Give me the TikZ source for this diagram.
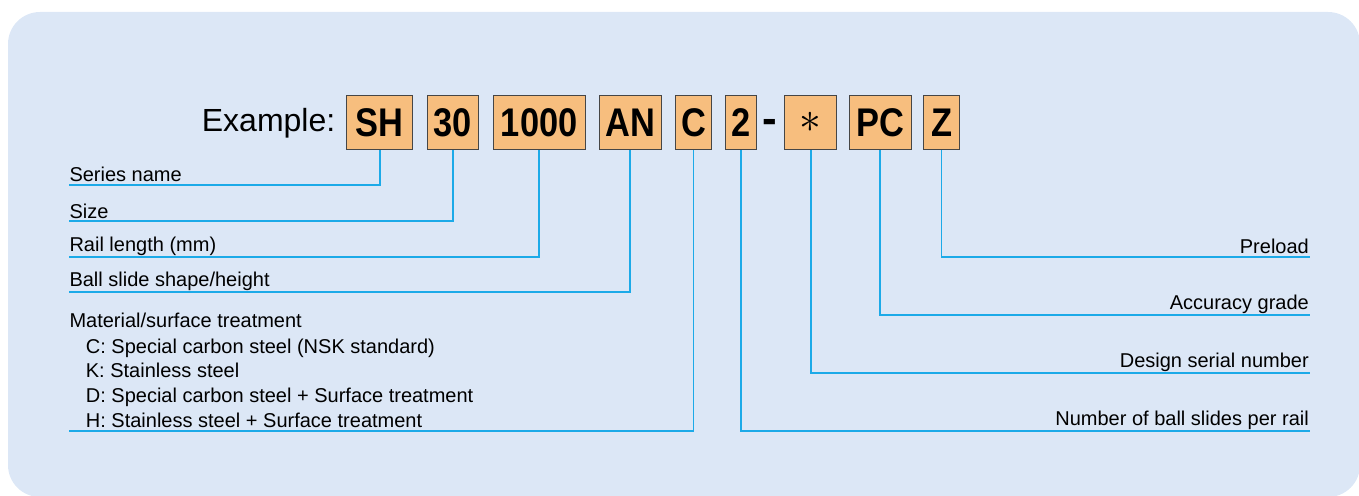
\documentclass[tikz,border=0pt]{standalone}
\usepackage{fontspec}
\setmainfont{Liberation Sans}
\newfontfamily\boxfont[FakeStretch=0.86]{Liberation Sans}
\definecolor{bg}{RGB}{220,231,246}
\definecolor{boxor}{RGB}{247,190,126}
\definecolor{boxedge}{RGB}{70,70,70}
\definecolor{lead}{RGB}{28,170,232}
\begin{document}
\begin{tikzpicture}[x=1pt,y=-1pt,
  code/.style={draw=boxedge,line width=0.9pt,fill=boxor,minimum height=54.4pt,inner sep=0pt,
    font=\boxfont\bfseries\fontsize{40}{40}\selectfont},
  lbl/.style={inner sep=0pt,font=\fontsize{20}{24}\selectfont},
  leader/.style={draw=lead,line width=1.7pt}]
\useasboundingbox (0,0) rectangle (1359,495);
\fill[bg,rounded corners=32pt] (8,12) rectangle (1360,497);

% example line
\node[inner sep=0pt,anchor=base west,font=\fontsize{32}{36}\selectfont] (ex) at (201.7,131.7) {Example:};
\node[code,minimum width=66pt]   (sh)   at (379.7,122.5) {SH};
\node[code,minimum width=51.7pt] (n30)  at (452.85,122.5) {30};
\node[code,minimum width=92.3pt] (len)  at (539.15,122.5) {1000};
\node[code,minimum width=62pt]   (an)   at (630.3,122.5) {AN};
\node[code,minimum width=36.4pt] (mat)  at (693.5,122.5) {C};
\node[code,minimum width=30.6pt] (two)  at (741,122.5) {2};
\node[inner sep=0pt,anchor=base,font=\bfseries\fontsize{44}{44}\selectfont] (dash) at (770.3,133.5) {-};
\node[code,minimum width=52pt]   (ast)  at (810.7,122.5) {\fontsize{24}{24}\selectfont\scalebox{1.75}{$\ast$}};
\node[code,minimum width=62pt]   (pc)   at (880.3,122.5) {PC};
\node[code,minimum width=35.6pt] (z)    at (941.5,122.5) {Z};

% left labels
\node[lbl,anchor=base west] (tSeries) at (69.3,181.7) {Series name};
\node[lbl,anchor=base west] (tSize)   at (69.3,218.3) {Size};
\node[lbl,anchor=base west] (tRail)   at (69.3,251.5) {Rail length (mm)};
\node[lbl,anchor=base west] (tBall)   at (69.3,286.5) {Ball slide shape/height};
\node[lbl,anchor=base west] (tMat)    at (69.3,327.7) {Material/surface treatment};
\node[lbl,anchor=base west] (tMatC)   at (85.7,353.3) {C: Special carbon steel (NSK standard)};
\node[lbl,anchor=base west] (tMatK)   at (85.7,377.3) {K: Stainless steel};
\node[lbl,anchor=base west] (tMatD)   at (85.7,402.3) {D: Special carbon steel + Surface treatment};
\node[lbl,anchor=base west] (tMatH)   at (85.7,427.3) {H: Stainless steel + Surface treatment};

% right labels
\node[lbl,anchor=base east] (tPre)  at (1309,253.3) {Preload};
\node[lbl,anchor=base east] (tAcc)  at (1309,309.5) {Accuracy grade};
\node[lbl,anchor=base east] (tDes)  at (1309,367.5) {Design serial number};
\node[lbl,anchor=base east] (tNum)  at (1309,425.3) {Number of ball slides per rail};

% leader end points
\coordinate (eSeries) at (69,185.3);
\coordinate (eSize)   at (69,221);
\coordinate (eRail)   at (69,256.7);
\coordinate (eBall)   at (69,292);
\coordinate (eMat)    at (69,430.7);
\coordinate (ePre)    at (1310,256.7);
\coordinate (eAcc)    at (1310,314.7);
\coordinate (eDes)    at (1310,372.7);
\coordinate (eNum)    at (1310,430.7);

\draw[leader] (sh.south)  |- (eSeries);
\draw[leader] (n30.south) |- (eSize);
\draw[leader] (len.south) |- (eRail);
\draw[leader] (an.south)  |- (eBall);
\draw[leader] (mat.south) |- (eMat);
\draw[leader] (two.south) |- (eNum);
\draw[leader] (ast.south) |- (eDes);
\draw[leader] (pc.south)  |- (eAcc);
\draw[leader] (z.south)   |- (ePre);
\end{tikzpicture}
\end{document}
